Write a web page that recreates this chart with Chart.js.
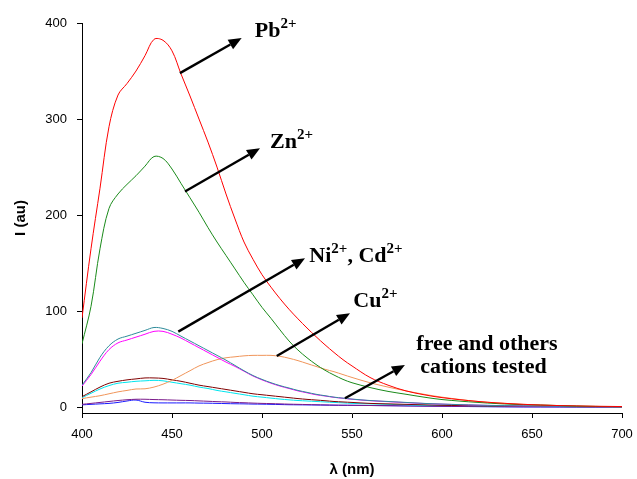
<!DOCTYPE html>
<html>
<head>
<meta charset="utf-8">
<script src="https://cdn.jsdelivr.net/npm/chart.js@4.4.0/dist/chart.umd.min.js"></script>
<style>
  html, body { margin:0; padding:0; background:#fff; }
  #wrap { width:637px; height:479px; }
</style>
</head>
<body>
<div id="wrap"><canvas id="chart" width="637" height="479"></canvas></div>
<script>
// comprimentos de onda (nm)
const lambdas = [400,405,410,415,420,425,430,435,440,445,450,455,460,465,470,475,480,485,490,495,500,505,510,515,520,525,530,535,540,545,550,560,570,580,590,600,620,640,660,680,700];

// intensidades (au)
const pb = [93,165,228,292,325,337,350,366,383,382,371,347,324,300,276,250,222,196,172,154,138,125,113,102,92,82.5,73.5,65,57,49.5,43,31,23,17,13,10,6,3.5,2,1.2,0.7];
const zn = [66,105,165,207,222,232,241,251,261,259,248,233,218,203,187,172,158,144,130,117,104,92.5,80.5,69,59.5,51.5,44.5,38.5,33.5,29,25.5,20.5,16.5,13.5,10.5,8,5,3,2,1,0.5];
const ni = [23,36,52,64,71,74,77,80,83,82,79,74,69,64,59,54,49,43.5,38,33,29,25.5,22.5,20,17.5,15.5,13.5,12,10.5,9.5,8.5,7,6,5,4,3.3,2.2,1.5,1,0.7,0.5];
const cd = [22,34,48,60,67,70,73,76,79,79,76,72,67,62,57,52,47,42.5,37.5,32.5,28.5,25,22,19.5,17,15,13,11.7,10.3,9.3,8.3,6.8,5.8,4.8,3.9,3.2,2.1,1.4,1,0.7,0.5];
const cu = [9,10.5,12,14,16,17.5,19,19.2,21,24,28,33,38,43,46.5,49.5,51.5,52.5,53.5,54,54,54,53,51,48.5,45.5,42.5,39.5,37,34,31,25.5,21,17,13.5,10.5,6,3.5,2,1,0.5];
const other1 = [11,16,21,25,27,28.5,29.5,30.5,30.5,30,28.5,27,25,23,21.5,20,18.5,17,15.5,14,13,12,11,10,9,8.2,7.5,6.8,6,5.5,5,4,3.5,3,2.5,2,1.5,1,0.8,0.6,0.5];
const other2 = [10,14.5,19,22.5,25,26,27,27.5,28,27.5,26,24.5,23,21,19.5,17.5,16,14.5,13,11.5,10.5,9.5,8.5,7.7,7,6.5,6,5.5,5,4.5,4,3.5,3,2.5,2,2,1.5,1,0.8,0.6,0.5];
const other3 = [3,4,5,6,7,7.8,8.3,8.3,8,7.8,7.5,7.2,7,6.6,6.2,5.8,5.5,5,4.7,4.3,4,3.8,3.5,3.2,3,2.8,2.6,2.4,2.2,2.1,2,1.8,1.6,1.4,1.2,1,0.8,0.6,0.5,0.4,0.3];
const free = [2.5,3,3.5,4,5,6.5,7.5,5.2,4.6,4.5,4.5,4.5,4.5,4.3,4.2,4,3.8,3.6,3.5,3.3,3.2,3,2.8,2.6,2.5,2.4,2.3,2.2,2.1,2,2,1.8,1.6,1.4,1.2,1,0.6,0.3,0.2,0.1,0.1];

const seriesNames = ['Pb', 'Zn', 'Ni', 'Cd', 'Cu', 'outro 1', 'outro 2', 'outro 3', 'livre'];
const seriesValues = [pb, zn, ni, cd, cu, other1, other2, other3, free];
const seriesColors = ['#ff0000', '#1a8a1a', '#2e8b9a', '#ff00ff', '#f0955a', '#800000', '#00e5ee', '#7a1a8a', '#1a1aff'];

// y ticks
const yTicks = [0, 100, 200, 300, 400];

// setas e rótulos (em λ / I)
const arrowTails = [[454.4,347.8],[457.2,224.5],[453.5,78.7],[508.2,53.4],[546.1,9.4]];
const arrowHeads = [[488.7,384.3],[498.9,269.7],[523.9,155.2],[548.9,97.9],[579.4,44]];
const labelParts = [
  [['Pb',0],['2+',1]],
  [['Zn',0],['2+',1]],
  [['Ni',0],['2+',1],[', Cd',0],['2+',1]],
  [['Cu',0],['2+',1]]
];
const labelPos = [[496,385.9],[504.5,269.7],[526.3,151.6],[550.7,104.8]];
const noteLines = ['free and others', 'cations tested'];
const notePos = [[625,59.7],[623,36]];

const datasets = seriesValues.map((vals, i) => ({
  label: seriesNames[i],
  data: vals.map((v, j) => ({ x: lambdas[j], y: v })),
  borderColor: seriesColors[i],
  borderWidth: 1,
  pointRadius: 0,
  fill: false,
  tension: 0.35
}));

// desenha setas e textos por cima das curvas
const annotPlugin = {
  id: 'annot',
  afterDatasetsDraw(chart) {
    const { ctx, scales: { x, y } } = chart;
    ctx.save();
    ctx.strokeStyle = '#000';
    ctx.fillStyle = '#000';
    ctx.lineWidth = 2.4;
    arrowTails.forEach((t, i) => {
      const x0 = x.getPixelForValue(t[0]), y0 = y.getPixelForValue(t[1]);
      const x1 = x.getPixelForValue(arrowHeads[i][0]), y1 = y.getPixelForValue(arrowHeads[i][1]);
      const a = Math.atan2(y1 - y0, x1 - x0);
      const hl = 13, hw = 5.5;
      const bx = x1 - hl * Math.cos(a), by = y1 - hl * Math.sin(a);
      ctx.beginPath();
      ctx.moveTo(x0, y0);
      ctx.lineTo(bx, by);
      ctx.stroke();
      ctx.beginPath();
      ctx.moveTo(x1, y1);
      ctx.lineTo(bx - hw * Math.sin(a), by + hw * Math.cos(a));
      ctx.lineTo(bx + hw * Math.sin(a), by - hw * Math.cos(a));
      ctx.closePath();
      ctx.fill();
    });
    ctx.textBaseline = 'alphabetic';
    ctx.textAlign = 'left';
    labelParts.forEach((parts, i) => {
      let px = x.getPixelForValue(labelPos[i][0]);
      const py = y.getPixelForValue(labelPos[i][1]);
      parts.forEach(([txt, sup]) => {
        ctx.font = sup ? 'bold 15px "Liberation Serif"' : 'bold 22px "Liberation Serif"';
        ctx.fillText(txt, px, sup ? py - 9 : py);
        px += ctx.measureText(txt).width;
      });
    });
    ctx.font = 'bold 22px "Liberation Serif"';
    ctx.textAlign = 'center';
    noteLines.forEach((txt, i) => {
      ctx.fillText(txt, x.getPixelForValue(notePos[i][0]), y.getPixelForValue(notePos[i][1]));
    });
    ctx.restore();
  }
};

new Chart(document.getElementById('chart'), {
  type: 'line',
  data: { datasets },
  options: {
    responsive: false,
    animation: false,
    devicePixelRatio: 1,
    layout: { padding: { top: 23, right: 15, left: 0, bottom: 0 } },
    plugins: { legend: { display: false }, tooltip: { enabled: false } },
    scales: {
      x: {
        type: 'linear', min: 400, max: 700,
        ticks: { stepSize: 50, color: '#000', padding: 9, font: { family: 'Liberation Sans', size: 13 } },
        grid: { drawOnChartArea: false, tickLength: 5, color: '#000' },
        border: { color: '#000' },
        title: { display: true, text: 'λ (nm)', color: '#000', padding: { top: 2, bottom: 0 }, font: { family: 'Liberation Sans', size: 15, weight: 'bold' } },
        afterFit: s => { s.height = 66; s.paddingRight = 10; s.paddingLeft = 0; }
      },
      y: {
        min: -6, max: 400,
        afterBuildTicks: s => { s.ticks = yTicks.map(v => ({ value: v })); },
        ticks: { color: '#000', padding: 10, font: { family: 'Liberation Sans', size: 13 } },
        grid: { drawOnChartArea: false, tickLength: 5, color: '#000' },
        border: { color: '#000' },
        title: { display: true, text: 'I (au)', color: '#000', padding: { top: 12, bottom: 0 }, font: { family: 'Liberation Sans', size: 15, weight: 'bold' } },
        afterFit: s => { s.width = 82; }
      }
    }
  },
  plugins: [annotPlugin]
});
</script>
</body>
</html>
